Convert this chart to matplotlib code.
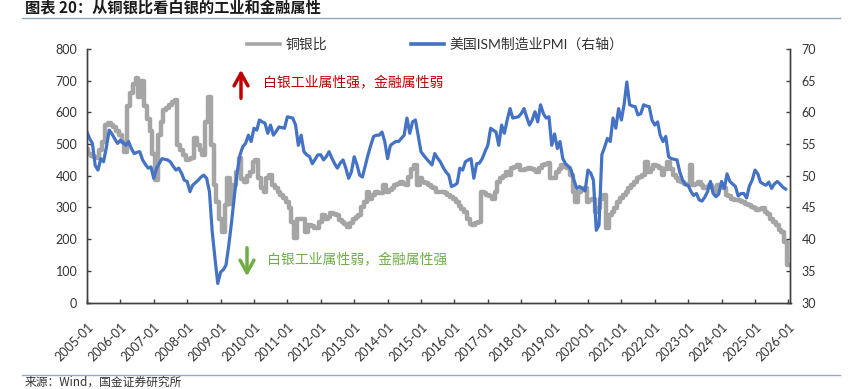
import matplotlib
matplotlib.use('Agg')
import matplotlib.pyplot as plt
import matplotlib.dates as mdates
from matplotlib.lines import Line2D
import pandas as pd

plt.rcParams['font.family'] = ['Lato', 'Noto Sans CJK SC', 'DejaVu Sans']

# 铜银比, monthly, 2005-01 .. 2026-01
cu_ag = [
    485, 470, 462, 458, 455, 480, 507, 560, 565, 560, 555, 540,   # 2005
    528, 507, 475, 620, 660, 690, 707, 650, 700, 620, 580, 540,   # 2006
    470, 386, 528, 570, 607, 615, 623, 634, 640, 497, 480, 465,   # 2007
    450, 452, 455, 518, 497, 480, 465, 570, 650, 497, 370, 318,   # 2008
    265, 223, 307, 392, 310, 370, 413, 455, 390, 381, 400, 413,   # 2009
    444, 450, 392, 360, 350, 392, 402, 370, 360, 350, 339, 330,   # 2010
    318, 297, 255, 202, 265, 265, 265, 223, 244, 240, 236, 234,   # 2011
    255, 276, 265, 270, 281, 278, 276, 260, 255, 248, 239, 250,   # 2012
    265, 270, 276, 300, 318, 350, 328, 340, 350, 347, 344, 370,   # 2013
    350, 355, 360, 370, 375, 381, 375, 370, 397, 420, 434, 370,   # 2014
    392, 381, 376, 370, 365, 360, 350, 350, 350, 345, 339, 333,   # 2015
    328, 318, 305, 295, 286, 265, 249, 244, 250, 255, 350, 344,   # 2016
    339, 335, 328, 350, 380, 392, 400, 413, 402, 423, 428, 434,   # 2017
    418, 418, 420, 423, 420, 418, 413, 425, 434, 436, 439, 392,   # 2018
    392, 413, 420, 434, 428, 423, 402, 350, 318, 350, 355, 360,   # 2019
    318, 325, 328, 286, 297, 328, 339, 234, 276, 286, 297, 318,   # 2020
    330, 339, 350, 360, 370, 381, 392, 395, 402, 442, 413, 420,   # 2021
    434, 430, 423, 402, 420, 444, 420, 402, 392, 385, 381, 375,   # 2022
    370, 434, 370, 375, 381, 370, 360, 365, 370, 360, 350, 370,   # 2023
    365, 360, 339, 335, 328, 325, 323, 320, 318, 310, 307, 300,   # 2024
    297, 291, 295, 297, 286, 280, 265, 255, 244, 230, 223, 192,   # 2025
    118,                                                          # 2026
]

# 美国ISM制造业PMI, monthly, 2005-01 .. 2025-12
pmi = [
    56.9, 55.8, 55.1, 51.6, 50.9, 52.7, 52.2, 54.5, 57.2, 56.6, 55.8, 55.1,   # 2005
    55.6, 55.2, 54.8, 55.4, 54.3, 53.5, 53.7, 53.8, 52.5, 51.8, 51.2, 51.4,   # 2006
    49.6, 51.2, 51.9, 52.7, 52.6, 52.5, 52.2, 51.5, 50.9, 51.2, 50.4, 49.3,   # 2007
    49.1, 47.5, 48.5, 48.9, 49.3, 49.8, 50.1, 49.6, 47.5, 41.2, 36.9, 33.0,   # 2008
    34.8, 35.2, 35.9, 39.1, 42.7, 46.9, 50.5, 53.3, 54.6, 55.1, 56.4, 55.4,   # 2009
    57.5, 57.2, 58.8, 58.5, 58.3, 56.7, 58.0, 56.4, 57.0, 57.7, 57.6, 57.5,   # 2010
    59.3, 59.2, 59.1, 58.0, 54.8, 56.4, 53.8, 53.3, 53.0, 51.9, 52.6, 53.3,   # 2011
    53.3, 52.5, 53.0, 53.8, 52.8, 51.9, 51.2, 52.0, 52.5, 51.2, 49.6, 50.6,   # 2012
    53.0, 51.7, 50.1, 49.8, 51.5, 53.3, 54.8, 56.2, 56.4, 56.4, 56.9, 55.4,   # 2013
    52.7, 54.8, 55.1, 55.4, 55.4, 55.9, 56.4, 59.1, 56.7, 58.5, 58.8, 56.4,   # 2014
    53.8, 53.2, 52.7, 52.2, 51.7, 53.5, 52.8, 52.2, 51.3, 50.6, 50.1, 48.3,   # 2015
    48.5, 48.8, 51.2, 50.9, 52.2, 52.5, 52.7, 49.6, 51.9, 52.0, 52.7, 53.8,   # 2016
    54.8, 57.5, 57.2, 56.9, 54.8, 58.0, 56.7, 58.8, 60.6, 59.1, 59.2, 59.3,   # 2017
    59.8, 60.6, 59.3, 58.0, 58.8, 60.1, 58.5, 61.2, 59.8, 59.1, 59.3, 54.8,   # 2018
    56.6, 54.3, 55.4, 52.7, 51.9, 51.5, 50.9, 49.3, 48.0, 48.3, 48.0, 47.6,   # 2019
    50.9, 50.4, 49.3, 41.4, 42.2, 53.3, 54.5, 55.9, 55.4, 59.1, 57.5, 60.6,   # 2020
    58.8, 61.4, 64.8, 61.2, 61.0, 60.9, 59.6, 59.8, 61.2, 61.0, 60.9, 58.8,   # 2021
    58.0, 58.5, 56.4, 55.4, 56.2, 53.0, 52.7, 52.6, 52.5, 50.6, 49.3, 48.6,   # 2022
    48.5, 47.5, 46.9, 47.2, 46.2, 46.0, 46.6, 47.5, 49.1, 47.2, 46.7, 47.1,   # 2023
    49.1, 48.0, 50.3, 49.1, 48.7, 48.3, 46.8, 47.2, 47.2, 46.5, 48.4, 49.3,   # 2024
    50.9, 50.3, 49.0, 48.7, 48.5, 49.0, 48.0, 48.7, 49.1, 48.7, 48.2, 47.9,   # 2025
]

cu_ag_dates = pd.date_range('2005-01-01', periods=len(cu_ag), freq='MS')
pmi_dates = pd.date_range('2005-01-01', periods=len(pmi), freq='MS')

grey = '#A5A5A5'
blue = '#4472C4'
axis_col = '#404040'

W, H = 858, 389
fig = plt.figure(figsize=(W / 100, H / 100), dpi=100)
ax = fig.add_axes([87 / W, 1 - 302.5 / H, (790.5 - 87) / W, (302.5 - 49) / H])
ax2 = ax.twinx()

# weekly-looking jagged band: steps with a thick stroke
ax.plot(cu_ag_dates, cu_ag, color=grey, lw=3.2, drawstyle='steps-mid')
ax2.plot(pmi_dates, pmi, color=blue, lw=2.3)

ax.set_xlim(pd.Timestamp('2005-01-01'), pd.Timestamp('2026-01-24'))
ax.set_ylim(0, 800)
ax.set_yticks(range(0, 801, 100))
ax2.set_ylim(30, 70)
ax2.set_yticks(range(30, 71, 5))

ax.xaxis.set_major_locator(mdates.YearLocator())
ax.xaxis.set_major_formatter(mdates.DateFormatter('%Y-%m'))

for a in (ax, ax2):
    a.spines['top'].set_visible(False)
    for s in ('left', 'right', 'bottom'):
        a.spines[s].set_color(axis_col)
        a.spines[s].set_linewidth(1)
ax.tick_params(axis='y', direction='in', length=3, width=1, color=axis_col,
               labelcolor='#333333', labelsize=9, pad=7)
ax.tick_params(axis='x', direction='in', length=3, width=1, color=axis_col,
               labelcolor='#333333', labelsize=9, pad=13)
ax2.tick_params(axis='y', direction='in', length=3, width=1, color=axis_col,
                labelcolor='#333333', labelsize=9, pad=8)
for lab in ax.get_xticklabels():
    lab.set_rotation(45)
    lab.set_ha('right')
    lab.set_va('top')
    lab.set_rotation_mode('anchor')

# legend
handles = [Line2D([], [], color=grey, lw=2.6), Line2D([], [], color=blue, lw=2.6)]
fig.legend(handles, ['铜银比', '美国ISM制造业PMI（右轴）'], loc='center left',
           bbox_to_anchor=(247 / W, 1 - 44 / H), ncol=2, frameon=False,
           handlelength=2.4, handletextpad=0.4, columnspacing=6.0,
           borderpad=0, borderaxespad=0, fontsize=10, labelcolor='#333333')

# arrows and notes
red = '#C00000'
green = '#70AD47'
fig.add_artist(matplotlib.patches.FancyArrowPatch(
    (241 / W, 1 - 101 / H), (241 / W, 1 - 67 / H), transform=fig.transFigure,
    arrowstyle='->,head_length=0.45,head_width=0.25', mutation_scale=20,
    color=red, lw=2.5))
fig.text(263 / W, 1 - 83 / H, '白银工业属性强，金融属性弱', color=red,
         fontsize=10, va='center', family=['Noto Sans CJK SC'])
fig.add_artist(matplotlib.patches.FancyArrowPatch(
    (247 / W, 1 - 245 / H), (247 / W, 1 - 279 / H), transform=fig.transFigure,
    arrowstyle='->,head_length=0.45,head_width=0.25', mutation_scale=20,
    color=green, lw=2.5))
fig.text(267 / W, 1 - 260 / H, '白银工业属性弱，金融属性强', color=green,
         fontsize=10, va='center', family=['Noto Sans CJK SC'])

# title, rules, source (kept inside the canvas)
fig.text(25 / W, 1 - 8 / H, '图表 20：从铜银比看白银的工业和金融属性',
         fontsize=11, fontweight='bold', va='center',
         color='#1a1a1a', family=['Noto Sans CJK SC'])
fig.add_artist(Line2D([22 / W, 840 / W], [1 - 18 / H] * 2, color='#8FAAC4', lw=1))
fig.add_artist(Line2D([22 / W, 840 / W], [1 - 375 / H] * 2, color='#8FAAC4', lw=1))
fig.text(25 / W, 1 - 382 / H, '来源：Wind，国金证券研究所', fontsize=8.5,
         va='center', color='#333333', family=['Noto Sans CJK SC'])

fig.savefig('out.png', dpi=100, facecolor='white')
